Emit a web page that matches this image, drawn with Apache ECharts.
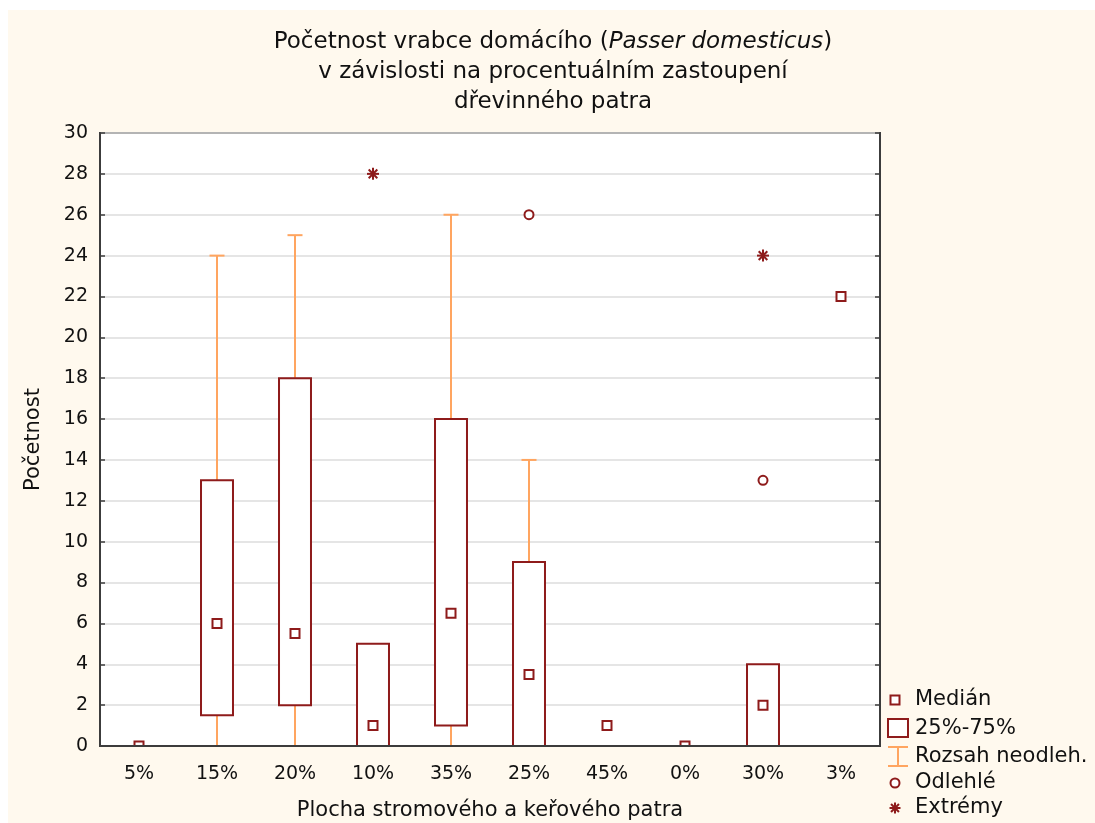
<!DOCTYPE html>
<html>
<head>
<meta charset="utf-8">
<script src="https://cdn.jsdelivr.net/npm/echarts@6/dist/echarts.min.js"></script>
<style>
  html, body { margin: 0; padding: 0; background: #ffffff; }
  #chart { width: 1095px; height: 823px; }
</style>
</head>
<body>
<div id="chart"></div>
<script>
// Coverage of tree and shrub layer (category order as sampled)
const categories = ['5%', '15%', '20%', '10%', '35%', '25%', '45%', '0%', '30%', '3%'];
// Box plot statistics per category (null = not drawn)
const medians    = [0, 6, 5.5, 1, 6.5, 3.5, 1, 0, 2, 22];
const q1         = [null, 1.5, 2, 0, 1, 0, null, null, 0, null];
const q3         = [null, 13, 18, 5, 16, 9, null, null, 4, null];
const rangeLow   = [null, 0, 0, 0, 0, 0, null, null, 0, null];
const rangeHigh  = [null, 24, 25, 5, 26, 14, null, null, 4, null];
// Outliers and extremes
const outlierCats = ['25%', '30%'];
const outlierVals = [26, 13];
const extremeCats = ['10%', '30%'];
const extremeVals = [28, 24];
// Value axis ticks
const yTicks = [0, 2, 4, 6, 8, 10, 12, 14, 16, 18, 20, 22, 24, 26, 28, 30];

const BOX_COLOR = '#8e1b1b';
const WHISKER_COLOR = '#ffa560';
const TEXT_COLOR = '#111111';
const FONT = '"DejaVu Sans", Verdana, sans-serif';

const boxData = [];
categories.forEach((c, i) => {
  if (q1[i] !== null) boxData.push([i, rangeLow[i], q1[i], q3[i], rangeHigh[i]]);
});
const medianData = medians.map((m, i) => [i, m]);
const outlierData = outlierCats.map((c, i) => [categories.indexOf(c), outlierVals[i]]);
const extremeData = extremeCats.map((c, i) => [categories.indexOf(c), extremeVals[i]]);

// Whisker (non-outlier range) behind the 25%-75% box
function renderBox(params, api) {
  const x = api.value(0);
  const lo = api.coord([x, api.value(1)]);
  const b = api.coord([x, api.value(2)]);
  const t = api.coord([x, api.value(3)]);
  const hi = api.coord([x, api.value(4)]);
  const bw = api.size([1, 0])[0] * 0.41;
  const cap = 15;
  const children = [];
  children.push({
    type: 'line',
    shape: { x1: lo[0], y1: lo[1], x2: hi[0], y2: hi[1] },
    style: { stroke: WHISKER_COLOR, lineWidth: 2 }
  });
  if (api.value(4) > api.value(3)) {
    children.push({
      type: 'line',
      shape: { x1: hi[0] - cap / 2, y1: hi[1], x2: hi[0] + cap / 2, y2: hi[1] },
      style: { stroke: WHISKER_COLOR, lineWidth: 2 }
    });
  }
  children.push({
    type: 'rect',
    shape: { x: t[0] - bw / 2, y: t[1], width: bw, height: b[1] - t[1] },
    style: { fill: '#ffffff', stroke: BOX_COLOR, lineWidth: 2 }
  });
  return { type: 'group', children: children };
}

function renderMedian(params, api) {
  const p = api.coord([api.value(0), api.value(1)]);
  const s = 9;
  return {
    type: 'rect',
    shape: { x: p[0] - s / 2, y: p[1] - s / 2, width: s, height: s },
    style: { fill: '#ffffff', stroke: BOX_COLOR, lineWidth: 2 }
  };
}

function renderOutlier(params, api) {
  const p = api.coord([api.value(0), api.value(1)]);
  return {
    type: 'circle',
    shape: { cx: p[0], cy: p[1], r: 4.5 },
    style: { fill: '#ffffff', stroke: BOX_COLOR, lineWidth: 2 }
  };
}

function asteriskLines(cx, cy, r) {
  const d = r * 0.72;
  return [
    [cx, cy - r, cx, cy + r],
    [cx - r, cy, cx + r, cy],
    [cx - d, cy - d, cx + d, cy + d],
    [cx - d, cy + d, cx + d, cy - d]
  ].map(l => ({
    type: 'line',
    shape: { x1: l[0], y1: l[1], x2: l[2], y2: l[3] },
    style: { stroke: BOX_COLOR, lineWidth: 2 }
  }));
}

function renderExtreme(params, api) {
  const p = api.coord([api.value(0), api.value(1)]);
  return { type: 'group', children: asteriskLines(p[0], p[1], 6) };
}

// Title (three centred lines, species name in italics)
const titleGraphic = {
  type: 'text',
  x: 553, y: 27,
  style: {
    text: '{n|Početnost vrabce domácího (}{i|Passer domesticus}{n|)}\n{n|v závislosti na procentuálním zastoupení}\n{n|dřevinného patra}',
    align: 'center',
    verticalAlign: 'top',
    rich: {
      n: { fontSize: 23, lineHeight: 30, fill: TEXT_COLOR, fontFamily: FONT, align: 'center' },
      i: { fontSize: 23, lineHeight: 30, fill: TEXT_COLOR, fontFamily: FONT, fontStyle: 'italic', align: 'center' }
    }
  }
};

// Legend drawn as graphics at the lower right
const legendX = 895;
const legendTextX = 915;
const legendItems = [
  { text: 'Medián', y: 700 },
  { text: '25%-75%', y: 729 },
  { text: 'Rozsah neodleh.', y: 757 },
  { text: 'Odlehlé', y: 783 },
  { text: 'Extrémy', y: 808 }
];
const legendGraphics = [
  { type: 'rect', shape: { x: legendX - 4.5, y: 695.5, width: 9, height: 9 },
    style: { fill: '#ffffff', stroke: BOX_COLOR, lineWidth: 2 } },
  { type: 'rect', shape: { x: 888, y: 719, width: 20, height: 18 },
    style: { fill: '#ffffff', stroke: BOX_COLOR, lineWidth: 2 } },
  { type: 'line', shape: { x1: 898, y1: 747, x2: 898, y2: 766 },
    style: { stroke: WHISKER_COLOR, lineWidth: 2 } },
  { type: 'line', shape: { x1: 888, y1: 747, x2: 908, y2: 747 },
    style: { stroke: WHISKER_COLOR, lineWidth: 2 } },
  { type: 'line', shape: { x1: 888, y1: 766, x2: 908, y2: 766 },
    style: { stroke: WHISKER_COLOR, lineWidth: 2 } },
  { type: 'circle', shape: { cx: legendX, cy: 783, r: 4.5 },
    style: { fill: '#ffffff', stroke: BOX_COLOR, lineWidth: 2 } },
  { type: 'group', children: asteriskLines(legendX, 808, 5.5) }
].concat(legendItems.map(it => ({
  type: 'text',
  x: legendTextX, y: it.y,
  style: { text: it.text, fontSize: 21, fontFamily: FONT,
           fill: TEXT_COLOR, align: 'left', verticalAlign: 'middle' }
})));

const chart = echarts.init(document.getElementById('chart'), null, { renderer: 'canvas' });

chart.setOption({
  animation: false,
  backgroundColor: '#ffffff',
  textStyle: { fontFamily: FONT },
  graphic: [
    { type: 'rect', z: -10, silent: true,
      shape: { x: 8, y: 10, width: 1087, height: 813 },
      style: { fill: '#fff9ee' } },
    titleGraphic
  ].concat(legendGraphics),
  grid: {
    left: 100, top: 133, width: 780, height: 613,
    outerBoundsMode: 'none',
    containLabel: false,
    show: true, backgroundColor: '#ffffff',
    borderColor: '#3c3c3c', borderWidth: 2
  },
  xAxis: {
    type: 'category',
    data: categories,
    boundaryGap: true,
    z: 5,
    name: 'Plocha stromového a keřového patra',
    nameLocation: 'middle',
    nameGap: 54,
    nameTextStyle: { fontSize: 21, color: TEXT_COLOR, fontFamily: FONT },
    axisLine: { lineStyle: { color: '#3c3c3c', width: 2 } },
    axisTick: { inside: true, alignWithLabel: true, length: 5, lineStyle: { color: '#3c3c3c', width: 1.5 } },
    axisLabel: { fontSize: 19, color: TEXT_COLOR, margin: 19, fontFamily: FONT },
    splitLine: { show: false }
  },
  yAxis: [
    {
      type: 'value',
      min: yTicks[0], max: yTicks[yTicks.length - 1], interval: 2,
      name: 'Početnost',
      nameLocation: 'middle',
      nameGap: 56,
      nameTextStyle: { fontSize: 21, color: TEXT_COLOR, fontFamily: FONT },
      axisLine: { show: true, lineStyle: { color: '#3c3c3c', width: 2 } },
      axisTick: { show: true, inside: true, length: 5, lineStyle: { color: '#3c3c3c', width: 1.5 } },
      axisLabel: { fontSize: 19, color: TEXT_COLOR, margin: 12, fontFamily: FONT },
      splitLine: { show: true, lineStyle: { color: '#dcdcdc', width: 1.5 } }
    },
    {
      type: 'value',
      position: 'right',
      min: yTicks[0], max: yTicks[yTicks.length - 1], interval: 2,
      axisLine: { show: true, lineStyle: { color: '#3c3c3c', width: 2 } },
      axisTick: { show: true, inside: true, length: 5, lineStyle: { color: '#3c3c3c', width: 1.5 } },
      axisLabel: { show: false },
      splitLine: { show: false }
    }
  ],
  series: [
    { type: 'custom', name: '25%-75%', renderItem: renderBox, data: boxData, clip: true, z: 2 },
    { type: 'custom', name: 'Medián', renderItem: renderMedian, data: medianData, clip: true, z: 3 },
    { type: 'custom', name: 'Odlehlé', renderItem: renderOutlier, data: outlierData, clip: true, z: 3 },
    { type: 'custom', name: 'Extrémy', renderItem: renderExtreme, data: extremeData, clip: true, z: 3 }
  ]
});
</script>
</body>
</html>
